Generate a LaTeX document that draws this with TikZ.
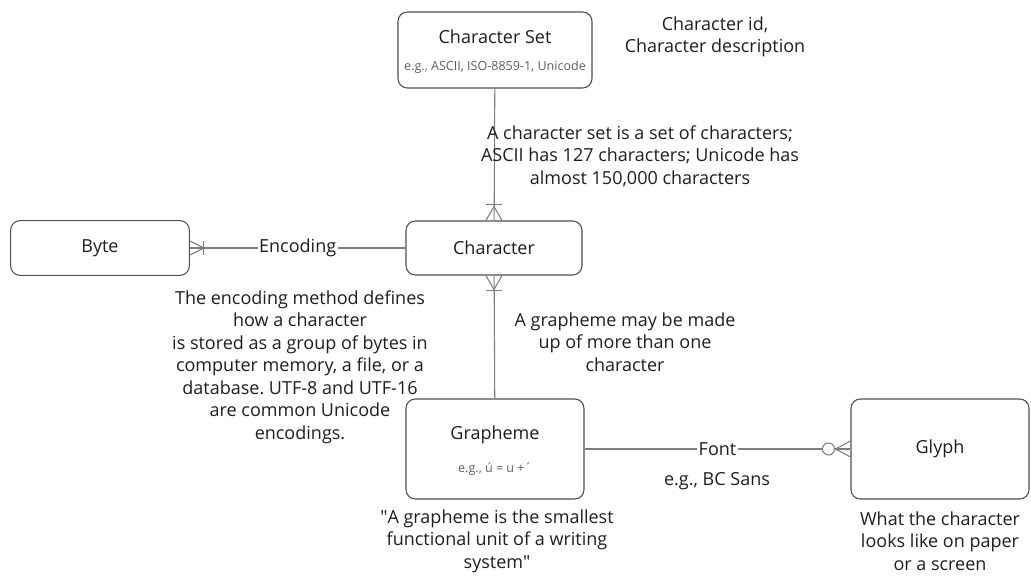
\documentclass[tikz,border=0pt]{standalone}
\usepackage{fontspec}
\setmainfont{Open Sans}
\usepackage{tikz}
\usetikzlibrary{positioning, calc}
\definecolor{cline}{RGB}{125,125,125}
\definecolor{cedge}{RGB}{80,80,80}
\definecolor{csub}{RGB}{95,95,95}
\definecolor{ctext}{RGB}{30,30,30}
\frenchspacing

\begin{document}
\begin{tikzpicture}[
  x=0.75pt, y=-0.75pt,
  entity/.style = {rectangle, rounded corners=7pt, draw=cedge, fill=white,
                   line width=0.8pt, align=center, text=ctext,
                   font=\fontsize{13.5}{16.9}\selectfont},
  subtxt/.style = {font=\fontsize{9.4}{11}\selectfont, text=csub},
  note/.style   = {align=center, text=ctext,
                   font=\fontsize{13.5}{16.9}\selectfont},
  rel/.style    = {draw=cline, line width=0.8pt},
  lbl/.style    = {fill=white, inner sep=1pt, text=ctext,
                   font=\fontsize{13.5}{16.9}\selectfont},
]
\useasboundingbox (0,0) rectangle (1031,584);
% Entities
\node[entity, minimum width=145.5pt, minimum height=57pt] (cset) at (495,50) {};
\node[entity, minimum width=132pt, minimum height=40.5pt] (char) at (494,248) {Character};
\node[entity, minimum width=134pt, minimum height=41pt]   (byte) at (100,248) {Byte};
\node[entity, minimum width=133.5pt, minimum height=75pt] (graph) at (495,449) {};
\node[entity, minimum width=133.5pt, minimum height=75pt] (glyph) at (940,449) {Glyph};
% Box titles and examples
\node[note]   (csettl) at ($(cset.center)+(0,-13)$)  {Character Set};
\node[subtxt] (csetsb) at ($(cset.center)+(0,17)$)   {e.g., ASCII, ISO-8859-1, Unicode};
\node[note]   (graphtl) at ($(graph.center)+(0,-14)$) {Grapheme};
\node[subtxt] (graphsb) at ($(graph.center)+(0,20)$)  {e.g., ú = u +´};
% Relationships
\draw[rel] (cset) -- (char);
\draw[rel] (char) -- (graph);
\draw[rel] (byte) -- node[lbl]{Encoding} (char);
\draw[rel] (graph) -- node[lbl]{Font} (glyph);
% Crow's feet
\draw[rel] ($(char.north)+(-8,0)$) -- ($(char.north)+(0,-14)$) -- ($(char.north)+(8,0)$);
\draw[rel] ($(char.north)+(-8,-16)$) -- ($(char.north)+(8,-16)$);
\draw[rel] ($(char.south)+(-8,0)$) -- ($(char.south)+(0,14)$) -- ($(char.south)+(8,0)$);
\draw[rel] ($(char.south)+(-8,15)$) -- ($(char.south)+(8,15)$);
\draw[rel] ($(byte.east)+(0,-7)$) -- ($(byte.east)+(14,0)$) -- ($(byte.east)+(0,7)$);
\draw[rel] ($(byte.east)+(14,-7)$) -- ($(byte.east)+(14,7)$);
\draw[rel] ($(glyph.west)+(0,-8)$) -- ($(glyph.west)+(-15,0)$) -- ($(glyph.west)+(0,8)$);
\draw[rel, fill=white] ($(glyph.west)+(-22,0)$) circle (4.5pt);
% Notes
\node[note] (idnote)   at (715,37)  {Character id,\\Character description};
\node[note] (setnote)  at (640,156) {A character set is a set of characters;\\ASCII has 127 characters; Unicode has\\almost 150,000 characters};
\node[note] (gphnote)  at (625,342) {A grapheme may be made\\up of more than one\\character};
\node[note] (encnote)  at (300,367) {The encoding method defines\\how a character\\is stored as a group of bytes in\\computer memory, a file, or a\\database. UTF-8 and UTF-16\\are common Unicode\\encodings.};
\node[note] (defnote)  at (497,541) {\textquotedbl A grapheme is the smallest\\functional unit of a writing\\system\textquotedbl};
\node[note] (fontnote) at (717,481) {e.g., BC Sans};
\node[note] (glyphnote) at (940,541) {What the character\\looks like on paper\\or a screen};
\end{tikzpicture}
\end{document}
